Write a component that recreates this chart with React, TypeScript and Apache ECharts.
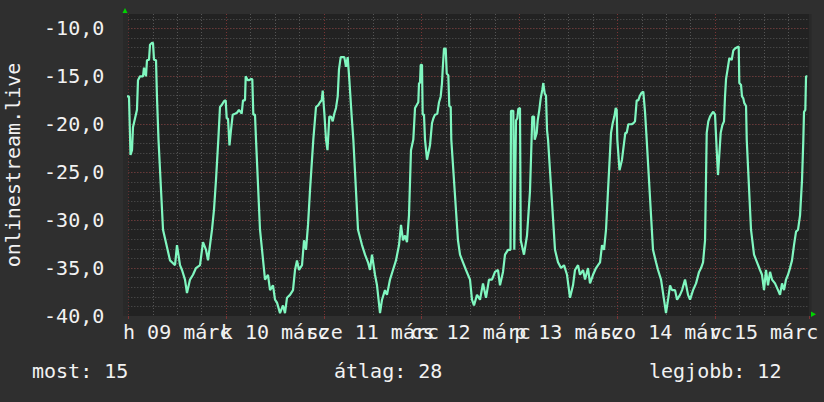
import React, { useEffect, useRef } from 'react';
import * as echarts from 'echarts';

const dayLabels = ['h 09 márc', 'k 10 márc', 'sze 11 márc', 'cs 12 márc', 'p 13 márc', 'szo 14 márc', 'v 15 márc'];

// hours since Monday 09 March 00:00
const sampleHours = [
  -0.81, 0.17, 0.54, 0.91, 1.15, 1.64, 2.13, 2.38, 2.87, 3.61, 3.85, 4.34, 4.59, 5.08, 5.33, 5.82, 6.06, 6.31, 6.8, 7.04,
  7.41, 8.52, 10.24, 11.47, 11.95, 12.69, 13.18, 13.91, 14.4, 15.14, 15.88, 16.61, 17.6, 18.33, 19.07, 19.56, 20.05, 20.54, 21.03, 21.52,
  22.09, 22.5, 22.92, 23.48, 23.9, 24.15, 24.47, 24.83, 25.2, 25.62, 26.18, 26.67, 27.16, 27.83, 28.15, 28.64, 28.81, 29.3, 29.69, 30.04,
  30.43, 30.68, 31.09, 31.34, 32.32, 33.55, 34.28, 34.78, 35.51, 36.0, 36.49, 37.23, 37.96, 38.45, 38.94, 39.68, 40.42, 40.91, 41.4, 41.89,
  42.63, 43.12, 43.61, 44.1, 44.59, 45.4, 46.06, 46.63, 47.05, 47.46, 47.71, 48.1, 48.52, 48.88, 49.33, 49.74, 50.16, 50.55, 50.97, 51.39,
  51.7, 52.12, 52.52, 53.01, 53.42, 53.84, 54.23, 54.82, 55.22, 56.37, 57.35, 58.09, 58.82, 59.31, 59.8, 60.54, 61.03, 61.77, 62.26, 62.99,
  63.48, 64.22, 64.95, 65.69, 66.43, 66.92, 67.41, 67.9, 68.39, 68.88, 69.37, 69.94, 70.36, 70.77, 71.17, 71.34, 71.58, 71.76, 72.07, 72.24,
  72.56, 72.81, 73.3, 74.03, 74.52, 74.85, 75.26, 75.83, 76.25, 76.66, 76.98, 77.15, 77.47, 77.89, 78.14, 78.53, 78.77, 79.12, 79.26, 80.9,
  81.4, 82.13, 82.87, 83.85, 84.34, 84.83, 85.57, 86.31, 87.04, 87.78, 88.51, 89.25, 89.99, 90.72, 91.21, 91.95, 92.44, 93.18, 93.79, 93.91,
  94.48, 94.72, 95.14, 95.46, 95.71, 96.12, 96.3, 97.1, 97.84, 98.57, 99.14, 99.56, 99.73, 100.22, 100.47, 100.86, 101.2, 101.6, 101.84, 102.19,
  102.5, 102.75, 103.0, 104.71, 105.45, 106.19, 106.92, 107.66, 108.39, 109.13, 109.62, 110.36, 110.85, 111.59, 112.08, 112.81, 113.3, 114.04, 114.78, 115.27,
  115.76, 116.25, 116.74, 117.23, 117.72, 118.46, 118.87, 119.27, 119.61, 119.85, 120.0, 120.54, 121.15, 121.96, 122.31, 122.7, 123.12, 123.53, 123.93, 124.34,
  124.76, 125.15, 125.57, 125.99, 126.38, 126.8, 127.21, 128.76, 129.5, 129.99, 130.73, 131.46, 131.95, 132.45, 132.94, 133.43, 134.17, 134.66, 135.39, 135.89,
  136.62, 137.36, 137.85, 138.59, 139.32, 140.06, 140.55, 141.04, 141.53, 141.94, 142.33, 142.75, 143.17, 143.56, 143.98, 144.39, 144.71, 145.37, 145.77, 146.18,
  146.43, 146.68, 147.09, 147.49, 148.07, 148.47, 148.89, 149.3, 149.79, 149.94, 150.36, 150.6, 150.92, 151.17, 151.59, 151.76, 152.81, 153.55, 154.29, 155.02,
  155.51, 156.0, 156.49, 156.98, 157.48, 157.97, 158.7, 159.44, 159.93, 160.42, 160.91, 161.4, 161.89, 162.38, 162.87, 163.36, 163.86, 164.35, 164.84, 165.33,
  165.65, 165.82, 166.14, 166.31, 166.63,
];

const sampleValues = [
  -17.1, -17.1, -23.2, -22.7, -20.3, -19.4, -18.5, -15.4, -15.0, -15.0, -14.1, -15.0, -13.3, -13.3, -11.7, -11.5, -11.5, -13.3, -13.3, -17.2,
  -21.6, -31.0, -34.2, -34.7, -32.6, -34.7, -35.2, -36.2, -37.6, -36.2, -35.7, -35.0, -34.7, -32.3, -33.1, -34.2, -32.6, -31.0, -28.9, -25.8,
  -21.6, -18.2, -18.0, -17.6, -17.5, -19.4, -19.4, -22.2, -20.6, -19.0, -18.9, -18.8, -18.5, -18.9, -17.5, -17.5, -15.0, -15.4, -15.4, -15.3,
  -15.3, -19.0, -19.0, -21.6, -31.0, -36.2, -35.7, -37.3, -36.8, -38.3, -38.6, -39.7, -38.9, -39.7, -38.1, -37.8, -37.3, -35.2, -34.2, -35.2,
  -34.7, -32.1, -33.1, -30.5, -26.9, -21.6, -18.2, -18.0, -17.7, -17.5, -16.5, -18.8, -21.6, -22.7, -19.2, -19.2, -19.7, -18.9, -18.3, -17.1,
  -14.3, -13.0, -13.0, -13.0, -14.0, -13.0, -15.3, -19.2, -21.6, -31.0, -32.6, -33.6, -34.4, -35.2, -33.6, -35.7, -36.8, -39.7, -38.3, -37.3,
  -37.8, -36.2, -35.2, -34.2, -32.6, -30.5, -32.1, -31.6, -32.3, -29.5, -22.7, -21.6, -18.3, -18.0, -17.7, -15.7, -15.7, -13.8, -13.8, -19.0,
  -19.0, -21.6, -23.7, -22.2, -19.9, -19.4, -19.0, -18.9, -17.7, -17.1, -15.7, -14.3, -12.1, -12.1, -14.7, -14.9, -18.1, -18.2, -21.6, -32.1,
  -33.6, -34.4, -35.2, -36.2, -38.3, -38.9, -37.8, -38.3, -36.6, -38.1, -36.2, -36.2, -35.4, -35.2, -36.8, -35.4, -33.6, -33.1, -33.1, -18.6,
  -18.6, -33.1, -19.6, -19.4, -18.4, -18.3, -32.1, -33.6, -31.6, -27.0, -19.2, -19.2, -21.6, -20.9, -19.6, -18.5, -17.3, -16.4, -15.7, -16.8,
  -17.0, -20.6, -21.6, -33.1, -34.4, -35.0, -34.7, -35.7, -38.1, -36.8, -35.2, -34.7, -35.7, -35.2, -36.2, -35.0, -36.6, -35.7, -35.0, -34.7,
  -34.4, -32.6, -33.1, -31.0, -26.9, -20.9, -19.9, -19.2, -18.3, -18.5, -21.6, -24.8, -23.7, -20.9, -20.9, -20.0, -20.0, -20.0, -19.9, -19.7,
  -17.5, -17.5, -17.0, -16.7, -16.6, -18.7, -21.6, -33.1, -34.4, -35.2, -36.2, -38.3, -39.7, -38.3, -36.8, -37.3, -37.3, -38.3, -37.8, -37.3,
  -36.2, -37.8, -38.3, -37.3, -36.6, -35.4, -35.0, -34.4, -32.1, -20.9, -19.7, -19.2, -18.9, -18.7, -19.0, -22.7, -25.3, -20.9, -20.1, -19.7,
  -17.1, -15.3, -14.2, -13.1, -13.3, -12.3, -12.1, -12.0, -11.9, -15.7, -15.9, -17.1, -17.3, -17.8, -18.1, -21.6, -31.0, -33.6, -34.4, -35.2,
  -35.7, -37.3, -35.2, -36.8, -35.4, -36.2, -36.6, -37.3, -37.8, -36.6, -37.3, -36.2, -35.7, -35.0, -34.2, -32.6, -31.2, -31.0, -29.5, -25.8,
  -21.6, -18.7, -18.5, -15.0, -15.0,
];

const yMin = -40;
const yMax = -8.5;
const xMax = 167.04;
const majorStepY = 5;
const minorStepY = 1;
const majorStepX = 24;
const minorStepX = 6;
const axisTitle = 'onlinestream.live';
const legendItems = ['most: 15', 'átlag: 28', 'legjobb: 12'];

const FONT = 'DejaVu Sans Mono';
const TEXT = '#f2f2f2';
const MAJOR = '#7a3434';
const MINOR = '#555555';

export default function App() {
  const ref = useRef<HTMLDivElement>(null);
  useEffect(() => {
    document.body.style.margin = '0';
    const chart = echarts.init(ref.current!, null, { renderer: 'svg' });
    const option: any = {
      animation: false,
      backgroundColor: '#2f2f2f',
      textStyle: { fontFamily: FONT },
      grid: [
        { left: 128.3, top: 14, width: 680.7, height: 302, show: true, backgroundColor: '#222222', borderWidth: 0, containLabel: false, outerBoundsMode: 'none' },
        { left: 128.3, top: 14, width: 684.6, height: 302, show: false, containLabel: false, outerBoundsMode: 'none' },
      ],
      xAxis: [
        {
          type: 'value', gridIndex: 0, position: 'bottom', min: 0, max: xMax, interval: minorStepX,
          axisLine: { show: false }, axisTick: { show: false }, axisLabel: { show: false },
          splitLine: { show: true, showMinLine: false, showMaxLine: false, lineStyle: { color: MINOR, type: [1, 2], width: 1 } },
        },
        {
          type: 'value', gridIndex: 0, position: 'bottom', min: 0, max: xMax, interval: majorStepX,
          axisLine: { show: false }, axisTick: { show: true, length: 3, inside: false, lineStyle: { color: MAJOR } },
          axisLabel: { show: false },
          splitLine: { show: true, showMaxLine: false, lineStyle: { color: MAJOR, type: [1, 2], width: 1 } },
        },
        {
          type: 'category', gridIndex: 1, position: 'bottom', data: dayLabels, boundaryGap: true,
          axisLine: { show: false }, axisTick: { show: false }, splitLine: { show: false },
          axisLabel: { interval: 0, color: TEXT, fontFamily: FONT, fontSize: 20, margin: 6, hideOverlap: false },
        },
      ],
      yAxis: [
        {
          type: 'value', gridIndex: 0, position: 'left', min: yMin, max: yMax, interval: minorStepY,
          axisLine: { show: false }, axisTick: { show: false }, axisLabel: { show: false },
          splitLine: { show: true, showMinLine: false, showMaxLine: false, lineStyle: { color: MINOR, type: [1, 2], width: 1 } },
        },
        {
          type: 'value', gridIndex: 0, position: 'left', min: yMin, max: yMax, interval: majorStepY,
          axisLine: { show: false }, axisTick: { show: false },
          axisLabel: {
            color: TEXT, fontFamily: FONT, fontSize: 20, margin: 24,
            formatter: (v: number) => (Math.abs(v % majorStepY) < 1e-9 ? v.toFixed(1).replace('.', ',') : ''),
          },
          splitLine: { show: true, showMinLine: false, showMaxLine: false, lineStyle: { color: MAJOR, type: [1, 2], width: 1 } },
        },
        { type: 'value', gridIndex: 1, show: false, min: 0, max: 1 },
      ],
      series: [
        {
          type: 'line',
          xAxisIndex: 1,
          yAxisIndex: 1,
          data: sampleHours.map((h, i) => [h, sampleValues[i]]),
          showSymbol: false,
          symbol: 'none',
          clip: false,
          lineStyle: { color: '#80f7c0', width: 2.2 },
          z: 5,
        },
      ],
      graphic: [
        { type: 'rect', z: 1, shape: { x: 123, y: 14, width: 5.3, height: 302 }, style: { fill: '#292929' } },
        { type: 'rect', z: 1, shape: { x: 809, y: 14, width: 2.5, height: 302 }, style: { fill: '#292929' } },
        { type: 'polygon', z: 6, shape: { points: [[122.5, 13], [127.5, 13], [125, 8]] }, style: { fill: '#00d400' } },
        { type: 'polygon', z: 6, shape: { points: [[811, 311.5], [811, 317], [816, 314.3]] }, style: { fill: '#00d400' } },
        {
          type: 'text', z: 6, x: 13, y: 165, rotation: Math.PI / 2,
          style: { text: axisTitle, fill: TEXT, font: `20px "${FONT}"`, align: 'center', verticalAlign: 'middle' },
        },
        { type: 'text', z: 6, x: 32, y: 371, style: { text: legendItems[0], fill: TEXT, font: `20px "${FONT}"`, align: 'left', verticalAlign: 'middle' } },
        { type: 'text', z: 6, x: 334, y: 371, style: { text: legendItems[1], fill: TEXT, font: `20px "${FONT}"`, align: 'left', verticalAlign: 'middle' } },
        { type: 'text', z: 6, x: 649, y: 371, style: { text: legendItems[2], fill: TEXT, font: `20px "${FONT}"`, align: 'left', verticalAlign: 'middle' } },
      ],
    };
    chart.setOption(option);
    return () => chart.dispose();
  }, []);
  return <div ref={ref} style={{ width: 824, height: 402 }} />;
}
